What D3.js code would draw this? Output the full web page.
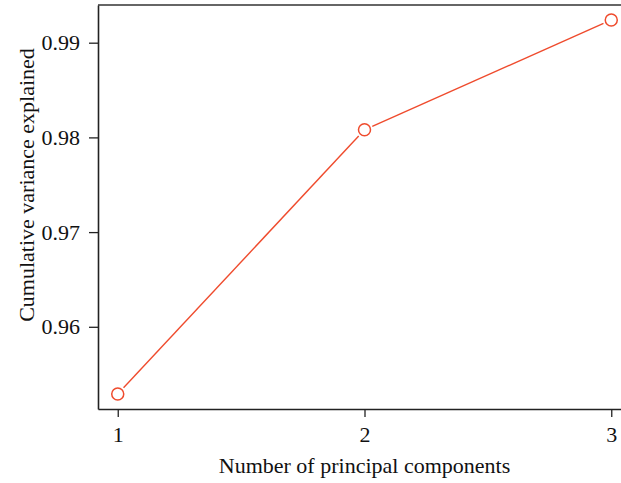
<!DOCTYPE html>
<html>
<head>
<meta charset="utf-8">
<script src="https://cdn.jsdelivr.net/npm/d3@7"></script>
<style>
  html, body { margin: 0; padding: 0; background: #fff; }
  svg { display: block; font-family: "Liberation Serif", "Times New Roman", serif; }
</style>
</head>
<body>
<svg id="chart" width="621" height="483"></svg>
<script>
// Cumulative variance explained by the first principal components
const components = [1, 2, 3];
const cumulativeVariance = [0.9529, 0.9808, 0.9924];
const yTicks = [0.96, 0.97, 0.98, 0.99];
const xTicks = [1, 2, 3];
const xTitle = "Number of principal components";
const yTitle = "Cumulative variance explained";

const svg = d3.select("#chart");
const plot = { left: 98, right: 631, top: 5, bottom: 409 };
const lineColor = "#ef4b2d";
const fontSize = 22;

// R-style 4% padding on each side of the data range
function padded(lo, hi) {
  const d = (hi - lo) * 0.04;
  return [lo - d, hi + d];
}

const x = d3.scaleLinear()
  .domain(padded(d3.min(components), d3.max(components)))
  .range([plot.left, plot.right]);
const y = d3.scaleLinear()
  .domain(padded(d3.min(cumulativeVariance), d3.max(cumulativeVariance)))
  .range([plot.bottom, plot.top]);

// Box: top border and the two axes
svg.append("line")
  .attr("x1", plot.left).attr("x2", plot.right)
  .attr("y1", plot.top).attr("y2", plot.top)
  .attr("stroke", "#333").attr("stroke-width", 1.6);

const xAxis = svg.append("g")
  .attr("transform", `translate(0,${plot.bottom})`)
  .call(d3.axisBottom(x).tickValues(xTicks).tickFormat(d3.format("d"))
    .tickSizeInner(8).tickSizeOuter(0).tickPadding(9));
const yAxis = svg.append("g")
  .attr("transform", `translate(${plot.left},0)`)
  .call(d3.axisLeft(y).tickValues(yTicks).tickFormat(d3.format(".2f"))
    .tickSizeInner(9).tickSizeOuter(0).tickPadding(9));

[xAxis, yAxis].forEach(g => {
  g.select(".domain").attr("stroke", "#222").attr("stroke-width", 1.6);
  g.selectAll(".tick line").attr("stroke", "#222").attr("stroke-width", 1.3);
  g.selectAll(".tick text")
    .attr("fill", "#111")
    .attr("font-size", fontSize)
    .attr("font-family", "Liberation Serif, serif");
});

// Axis titles
svg.append("text")
  .attr("x", (plot.left + plot.right) / 2)
  .attr("y", 473)
  .attr("text-anchor", "middle")
  .attr("font-size", fontSize)
  .attr("fill", "#111")
  .text(xTitle);

svg.append("text")
  .attr("transform", `translate(34,185) rotate(-90)`)
  .attr("text-anchor", "middle")
  .attr("font-size", fontSize)
  .attr("fill", "#111")
  .text(yTitle);

// Points joined by segments that stop short of each marker
const r = 6;
const gap = r + 2.5;
const pts = components.map((c, i) => [x(c), y(cumulativeVariance[i])]);
const segs = d3.pairs(pts).map(([a, b]) => {
  const dx = b[0] - a[0], dy = b[1] - a[1];
  const len = Math.hypot(dx, dy);
  const ux = dx / len, uy = dy / len;
  return [a[0] + ux * gap, a[1] + uy * gap, b[0] - ux * gap, b[1] - uy * gap];
});

svg.append("g").selectAll("line")
  .data(segs)
  .join("line")
  .attr("x1", d => d[0]).attr("y1", d => d[1])
  .attr("x2", d => d[2]).attr("y2", d => d[3])
  .attr("stroke", lineColor).attr("stroke-width", 1.4);

svg.append("g").selectAll("circle")
  .data(pts)
  .join("circle")
  .attr("cx", d => d[0]).attr("cy", d => d[1])
  .attr("r", r)
  .attr("fill", "none")
  .attr("stroke", lineColor).attr("stroke-width", 1.5);
</script>
</body>
</html>
